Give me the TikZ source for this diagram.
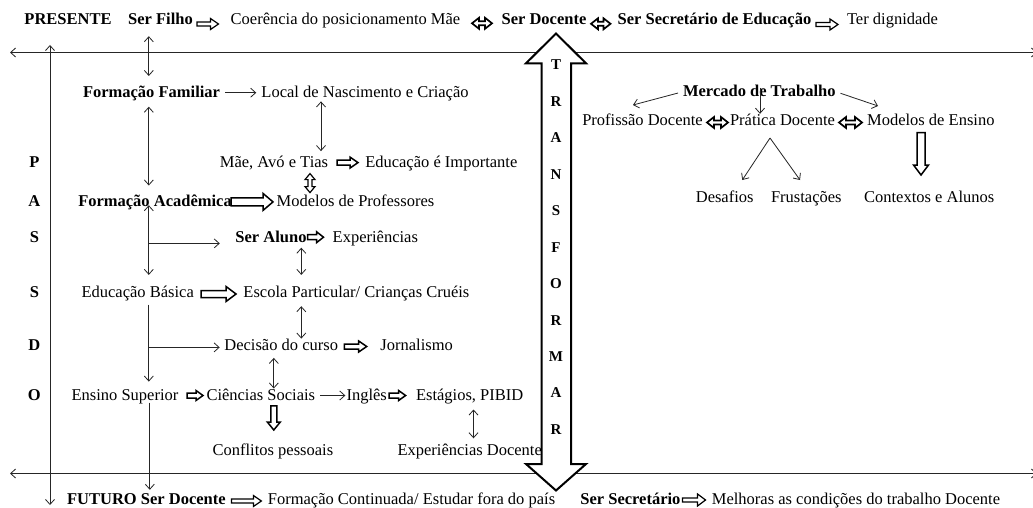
\documentclass[tikz,border=0pt]{standalone}
\usepackage{fontspec}
\setmainfont{Liberation Serif}
\usetikzlibrary{arrows.meta}

% outlined block arrow: rotation, x, y, length, shaft half-width, head half-width, head length
\newcommand\fatarrow[7]{%
  \draw[blk, shift={(#2,#3)}, rotate=#1]
    (0,-#5) -- (#4-#7,-#5) -- (#4-#7,-#6) -- (#4,0) -- (#4-#7,#6)
    -- (#4-#7,#5) -- (0,#5) -- cycle;}
% outlined double-headed block arrow, same arguments
\newcommand\fatdarrow[7]{%
  \draw[blk, shift={(#2,#3)}, rotate=#1]
    (0,0) -- (#7,-#6) -- (#7,-#5) -- (#4-#7,-#5) -- (#4-#7,-#6) -- (#4,0)
    -- (#4-#7,#6) -- (#4-#7,#5) -- (#7,#5) -- (#7,#6) -- cycle;}

\begin{document}
\begin{tikzpicture}[x=1pt,y=-1pt,
  every node/.style={font=\fontsize{16.5}{19}\selectfont, inner sep=1pt,
    text height=10.5pt, text depth=0.5pt, text=black},
  lab/.style={font=\fontsize{16.5}{19}\selectfont\bfseries},
  ltr/.style={font=\fontsize{15}{18}\selectfont\bfseries},
  ln/.style={draw=black!85, line width=0.8pt},
  arr/.style={ln, -{Straight Barb[length=5pt,width=9pt]}},
  biarr/.style={ln, {Straight Barb[length=5pt,width=9pt]}-{Straight Barb[length=5pt,width=9pt]}},
  blk/.style={draw=black, line width=1.5pt, fill=white, line join=miter},
]
\fill[white] (0,0) rectangle (1033,508);
\useasboundingbox (0,0) rectangle (1033,508);

% time axes
\coordinate (axL1) at (10,52.5);  \coordinate (axR1) at (1037,52.5);
\coordinate (axL2) at (10,473.5); \coordinate (axR2) at (1037,473.5);
\coordinate (axT) at (50,45);     \coordinate (axB) at (50,505);
\draw[biarr] (axL1) -- (axR1);
\draw[biarr] (axL2) -- (axR2);
\draw[biarr] (axT) -- (axB);

% central TRANSFORMAR arrow
\draw[line width=2pt, fill=white, line join=miter]
  (556,33.5) -- (586,63.3) -- (571,63.3) -- (571,464) -- (586,464) -- (556,490.5)
  -- (526,464) -- (541.5,464) -- (541.5,63.3) -- (526,63.3) -- cycle;
\foreach \l [count=\i from 0] in {T,R,A,N,S,F,O,R,M,A,R}
  \node[ltr] (tr\i) at (556,{65+36.43*\i}) {\l};

% PASSADO
\foreach \l/\y [count=\i] in {P/162.6, A/201, S/237.2, S/292.3, D/345.7, O/395.5}
  \node[lab] (pas\i) at (34.4,\y) {\l};

% present row
\node[lab] (pres) at (68,20) {PRESENTE};
\node[lab] (sfilho) at (160.5,20) {Ser Filho};
\node (coer) at (345.5,20) {Coerência do posicionamento Mãe};
\node[lab] (sdoc) at (544,20) {Ser Docente};
\node[lab] (ssec) at (714.5,20) {Ser Secretário de Educação};
\node (ter) at (892.5,20) {Ter dignidade};

% past: left column
\node[lab] (ff) at (151.5,92.7) {Formação Familiar};
\node (loc) at (365,92.7) {Local de Nascimento e Criação};
\node (mae) at (274,162.6) {Mãe, Avó e Tias};
\node (edimp) at (441.3,162.6) {Educação é Importante};
\node[lab] (fa) at (155,201.9) {Formação Acadêmica};
\node (modprof) at (355.5,201.9) {Modelos de Professores};
\node[lab] (saluno) at (271,237.2) {Ser Aluno};
\node (exper) at (375.3,237.2) {Experiências};
\node (eb) at (137.7,292.3) {Educação Básica};
\node (escola) at (356.4,292.3) {Escola Particular/ Crianças Cruéis};
\node (decisao) at (281.2,345.7) {Decisão do curso};
\node (jorn) at (416.7,345.7) {Jornalismo};
\node (es) at (125,395.5) {Ensino Superior};
\node (cs) at (260.8,395.5) {Ciências Sociais};
\node (ingles) at (366.7,395.5) {Inglês};
\node (estagios) at (469.7,395.5) {Estágios, PIBID};
\node (conflitos) at (272.9,450.6) {Conflitos pessoais};
\node (expdoc) at (469.7,450.6) {Experiências Docente};

% future row
\node[lab] (futuro) at (146.4,499) {FUTURO Ser Docente};
\node (formcont) at (411.5,499) {Formação Continuada/ Estudar fora do país};
\node[lab] (ssec2) at (630.4,499) {Ser Secretário};
\node (melhoras) at (856,499) {Melhoras as condições do trabalho Docente};

% right side: job market
\node[lab] (merc) at (759.3,92) {Mercado de Trabalho};
\node (profd) at (642.5,120.5) {Profissão Docente};
\node (pratd) at (782.5,120.5) {Prática Docente};
\node (modens) at (930.8,120.5) {Modelos de Ensino};
\node (desaf) at (724.7,197.3) {Desafios};
\node (frust) at (806.3,197.3) {Frustações};
\node (context) at (929.2,197.3) {Contextos e Alunos};

% column positions of the vertical connectors
\coordinate (cA) at (148.8,0);
\coordinate (cB) at (321,0);
\coordinate (cC) at (301.3,0);
\coordinate (cD) at (273.8,0);
\coordinate (cE) at (473.5,0);
\coordinate (cF) at (149.8,0);
\coordinate (cG) at (760,0);

% thin connectors, left part
\draw[biarr, shorten <=9.5pt, shorten >=10pt] (sfilho.south -| cA) -- (ff.north -| cA);
\draw[arr, shorten <=4pt, shorten >=4pt] (ff.east) -- (loc.west);
\draw[biarr, shorten <=2pt, shorten >=4.8pt] (loc.south -| cB) -- (mae.north -| cB);
\draw[biarr, shorten <=7.3pt, shorten >=9.7pt] (ff.south -| cA) -- (fa.north -| cA);
\draw[biarr, shorten <=-3.4pt, shorten >=10.7pt] (fa.south -| cA) -- (eb.north -| cA);
\coordinate (br1) at (148.8,243.4);
\draw[arr, shorten >=14.5pt] (br1) -- (saluno.west |- br1);
\draw[biarr, shorten <=3.8pt, shorten >=10.7pt] (saluno.south -| cC) -- (escola.north -| cC);
\draw[biarr, shorten <=7.2pt, shorten >=0.4pt] (escola.south -| cC) -- (decisao.north -| cC);
\draw[arr, shorten <=5.6pt, shorten >=7.2pt] (eb.south -| cA) -- (es.north -| cA);
\coordinate (br2) at (148.8,347.4);
\draw[arr, shorten >=3.5pt] (br2) -- (decisao.west |- br2);
\draw[biarr, shorten <=5.5pt, shorten >=0.3pt] (decisao.south -| cD) -- (cs.north -| cD);
\draw[arr, shorten <=4pt] (cs.east) -- (ingles.west);
\draw[biarr, shorten <=7.3pt, shorten >=5.6pt] (estagios.south -| cE) -- (expdoc.north -| cE);
\draw[arr, shorten <=0.4pt, shorten >=2.5pt] (es.south -| cF) -- (futuro.north -| cF);

% thin connectors, right part
\coordinate (m1) at (633,105);
\coordinate (m2) at (878,106);
\draw[arr, shorten <=4pt] (merc.west) -- (m1);
\draw[arr, shorten <=4pt] (merc.east) -- (m2);
\draw[arr, shorten <=2.5pt] (merc.north -| cG) -- (pratd.north -| cG);
\coordinate (fork) at (770,138);
\coordinate (f1) at (742.3,180);
\coordinate (f2) at (800,180);
\draw[arr] (fork) -- (f1);
\draw[arr] (fork) -- (f2);

% block arrows
\begin{scope}[blk/.append style={line width=1.2pt}]
\fatarrow{0}{197}{24}{21.5}{2}{5.5}{8}
\fatarrow{0}{816}{24.5}{22}{2}{5.5}{8}
\fatarrow{0}{231.4}{501}{30}{2}{5.5}{8}
\fatarrow{0}{682.5}{500}{23}{2}{6}{8}
\fatdarrow{-90}{310}{173.6}{19}{2}{5}{6}
\end{scope}
\begin{scope}[blk/.append style={line width=1.7pt}]
\fatdarrow{0}{472}{23.3}{20}{2}{5.5}{7}
\fatdarrow{0}{591}{23.8}{19.5}{2}{5.5}{7}
\fatdarrow{0}{707}{122.5}{21}{2}{5.5}{7}
\fatdarrow{0}{839}{122.5}{23}{2}{5.5}{7}
\end{scope}
\fatarrow{0}{337}{162.6}{21}{2.5}{5.5}{8}
\fatarrow{0}{231}{201.9}{42}{4}{8.5}{10}
\fatarrow{0}{307.5}{237.2}{16}{2.5}{5.5}{7}
\fatarrow{0}{201}{294}{35}{3.5}{7.5}{10}
\fatarrow{0}{344.4}{346.5}{22.3}{2.5}{5.5}{8}
\fatarrow{0}{187}{395.5}{16}{2.5}{5}{7}
\fatarrow{0}{389}{395.5}{16.6}{2.5}{5}{7}
\fatarrow{-90}{273.8}{405.8}{24.2}{3}{6.5}{8}
\fatarrow{-90}{921}{132.7}{42.3}{4}{7.5}{10}
\end{tikzpicture}
\end{document}
